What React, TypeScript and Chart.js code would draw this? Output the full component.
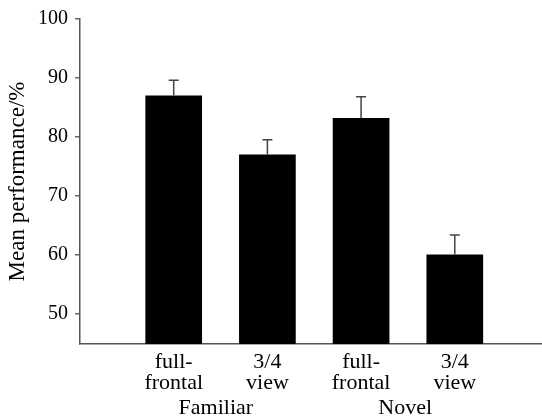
import React, { useEffect, useRef } from "react";
import { Chart, registerables } from "chart.js";

Chart.register(...registerables);

const positions = [1, 2, 3, 4];
const tickLabels: string[][] = [
  ["full-", "frontal"],
  ["3/4", "view"],
  ["full-", "frontal"],
  ["3/4", "view"],
];
const meanValues = [87, 77, 83.2, 60];
const errorValues = [2.6, 2.5, 3.6, 3.3];
const groupLabels = ["Familiar", "Novel"];
const groupCenters = [1.45, 3.47];
const yTicks = [50, 60, 70, 80, 90, 100];

const FONT = "'Liberation Serif', 'Times New Roman', serif";

const errorBarPlugin = {
  id: "errorBars",
  afterDatasetsDraw(chart: any) {
    const meta = chart.getDatasetMeta(0);
    const yScale = chart.scales.y;
    const ctx = chart.ctx;
    ctx.save();
    ctx.strokeStyle = "#444";
    ctx.lineWidth = 1.5;
    meta.data.forEach((el: any, i: number) => {
      const top = yScale.getPixelForValue(meanValues[i] + errorValues[i]);
      ctx.beginPath();
      ctx.moveTo(el.x, el.y);
      ctx.lineTo(el.x, top);
      ctx.moveTo(el.x - 5, top);
      ctx.lineTo(el.x + 5, top);
      ctx.stroke();
    });
    ctx.restore();
  },
};

const groupLabelPlugin = {
  id: "groupLabels",
  afterDraw(chart: any) {
    const xScale = chart.scales.x;
    const ctx = chart.ctx;
    ctx.save();
    ctx.fillStyle = "#000";
    ctx.font = `22px ${FONT}`;
    ctx.textAlign = "center";
    ctx.textBaseline = "middle";
    groupLabels.forEach((g, i) => {
      ctx.fillText(g, xScale.getPixelForValue(groupCenters[i]), chart.chartArea.bottom + 64);
    });
    ctx.restore();
  },
};

export default function App() {
  const ref = useRef<HTMLCanvasElement>(null);
  useEffect(() => {
    document.body.style.margin = "0";
    const chart = new Chart(ref.current!, {
      type: "bar",
      data: {
        datasets: [
          {
            data: positions.map((p, i) => ({ x: p, y: meanValues[i] })),
            backgroundColor: "#000",
            borderColor: "#333",
            borderWidth: 0,
            categoryPercentage: 1,
            barPercentage: 0.605,
          },
        ],
      },
      options: {
        animation: false,
        responsive: true,
        maintainAspectRatio: false,
        layout: { padding: { top: 16, right: 1, left: 0, bottom: 0 } },
        plugins: { legend: { display: false }, tooltip: { enabled: false } },
        scales: {
          x: {
            type: "linear",
            min: 0,
            max: 4.92,
            offset: false,
            grid: { display: false, drawTicks: false, offset: false },
            border: { display: true, color: "#555", width: 1.5 },
            afterBuildTicks: (s: any) => {
              s.ticks = positions.map((v) => ({ value: v }));
            },
            afterFit: (s: any) => {
              s.height = 76;
            },
            ticks: {
              padding: 8,
              color: "#000",
              maxRotation: 0,
              autoSkip: false,
              font: { family: FONT, size: 22, lineHeight: 0.95 },
              callback: (v: any) => {
                const i = positions.indexOf(Number(v));
                return i >= 0 ? tickLabels[i] : "";
              },
            },
          },
          y: {
            min: 44.8,
            max: 100,
            grid: { drawOnChartArea: false, drawTicks: true, tickLength: 5, color: "#666", lineWidth: 1.5 },
            border: { display: true, color: "#555", width: 1.5 },
            afterBuildTicks: (s: any) => {
              s.ticks = yTicks.map((v) => ({ value: v }));
            },
            afterFit: (s: any) => {
              s.width = 80;
            },
            ticks: {
              padding: 7,
              color: "#000",
              font: { family: FONT, size: 20 },
            },
            title: {
              display: true,
              text: "Mean performance/%",
              color: "#000",
              font: { family: FONT, size: 23 },
              padding: { top: 4, bottom: 0 },
            },
          },
        },
      },
      plugins: [errorBarPlugin, groupLabelPlugin],
    });
    return () => chart.destroy();
  }, []);
  return (
    <div style={{ width: 542, height: 420, position: "relative" }}>
      <canvas ref={ref} />
    </div>
  );
}
